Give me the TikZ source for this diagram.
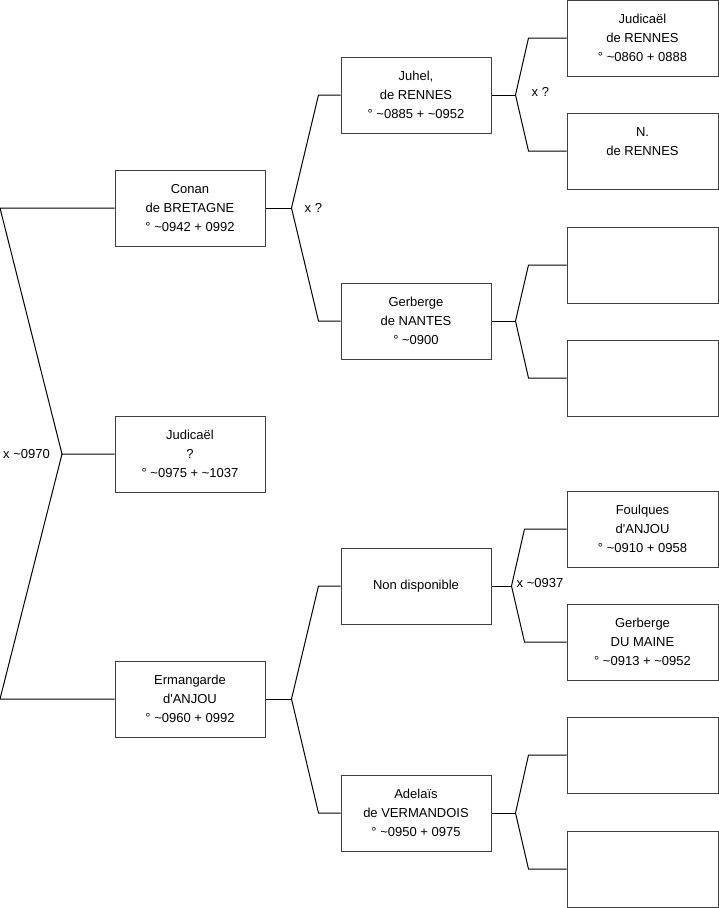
\documentclass[tikz,border=0pt]{standalone}
\usepackage{fontspec}
\setmainfont{Liberation Sans}
\usetikzlibrary{positioning,calc}
\definecolor{Frame}{HTML}{404040}
\begin{document}
\begin{tikzpicture}[x=1pt,y=-1pt,
    n/.style={draw=Frame,line width=1pt,minimum width=150pt,minimum height=76pt,align=center,inner sep=0pt,font=\fontsize{13}{19}\selectfont},
    w/.style={n,minimum width=151pt},
    l/.style={line width=1pt,draw=black},
    lbl/.style={inner sep=0pt,font=\fontsize{13}{19}\selectfont}]
    \useasboundingbox (0,0) rectangle (719,908);
    % generation 1
    \node[n] (conan) at (190,208) {Conan\\de BRETAGNE\\° \textasciitilde0942 + 0992};
    \node[n] (jud) at (190,454) {Judicaël\\?\\° \textasciitilde0975 + \textasciitilde1037};
    \node[n] (erm) at (190,699) {Ermangarde\\d\textquotesingle ANJOU\\° \textasciitilde0960 + 0992};
    % generation 2
    \node[n] (juhel) at (416,95) {Juhel,\\de RENNES\\° \textasciitilde0885 + \textasciitilde0952};
    \node[n] (gern) at (416,321) {Gerberge\\de NANTES\\° \textasciitilde0900};
    \node[n] (nond) at (416,586) {Non disponible};
    \node[n] (adel) at (416,813) {Adelaïs\\de VERMANDOIS\\° \textasciitilde0950 + 0975};
    % generation 3
    \node[w] (jr) at (642.5,38) {Judicaël\\de RENNES\\° \textasciitilde0860 + 0888};
    \node[w] (nr) at (642.5,151) {N.\\de RENNES\\\mbox{}};
    \node[w] (e1) at (642.5,265) {};
    \node[w] (e2) at (642.5,378) {};
    \node[w] (fa) at (642.5,529) {Foulques\\d\textquotesingle ANJOU\\° \textasciitilde0910 + 0958};
    \node[w] (gm) at (642.5,642) {Gerberge\\DU MAINE\\° \textasciitilde0913 + \textasciitilde0952};
    \node[w] (e3) at (642.5,755) {};
    \node[w] (e4) at (642.5,869) {};
    % root fork
    \coordinate (r1) at (0,208);
    \coordinate (v-jud) at (62,454);
    \coordinate (r3) at (0,699);
    \draw[l] (conan.west) -- (r1) -- (v-jud) -- (jud.west);
    \draw[l] (v-jud) -- (r3) -- (erm.west);
    % forks
    \foreach \p/\a/\b/\d/\e in {conan/juhel/gern/26/22,erm/nond/adel/26/22,juhel/jr/nr/24/38,
        gern/e1/e2/24/38,nond/fa/gm/20/42,adel/e3/e4/24/38} {
      \coordinate (v-\p) at ($(\p.east)+(\d,0)$);
      \draw[l] (\p.east) -- (v-\p);
      \draw[l] (\a.west) -- ++(-\e,0) -- (v-\p) -- ($(\b.west)+(-\e,0)$) -- (\b.west);
    }
    % marriages
    \node[lbl,left=12pt of v-jud] {x \textasciitilde0970};
    \node[lbl,right=13pt of v-conan] {x ?};
    \node[lbl,right=16pt of v-juhel,yshift=3pt] {x ?};
    \node[lbl,right=5pt of v-nond,yshift=3pt] {x \textasciitilde0937};
\end{tikzpicture}
\end{document}
